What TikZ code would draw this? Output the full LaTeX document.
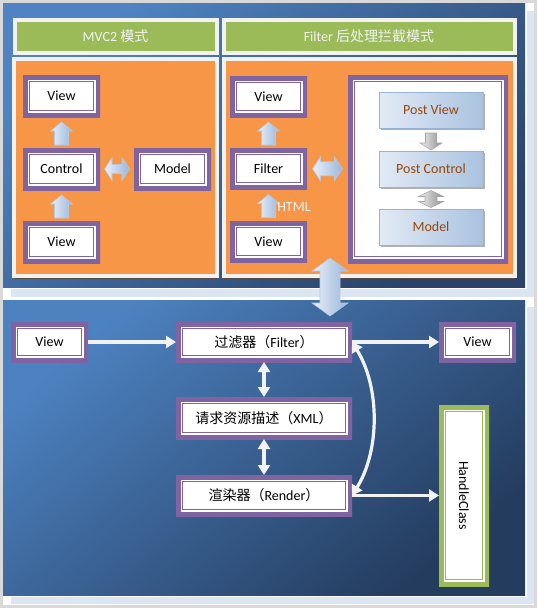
\documentclass[tikz,border=0pt]{standalone}
\usepackage{fontspec}
\usepackage{graphicx}
\setmainfont{Carlito}
\newfontfamily\cjk{Noto Sans CJK SC}
\usetikzlibrary{arrows.meta,calc,fit,shadows}
\definecolor{pp}{HTML}{8064A2}
\definecolor{grn}{HTML}{9BBB59}
\definecolor{org}{HTML}{F79646}
\definecolor{frm}{HTML}{F2F2F2}
\definecolor{bgl}{HTML}{DCE6F2}
\definecolor{bgg}{HTML}{D9D9D9}
\definecolor{tpl}{HTML}{4F83C3}
\definecolor{tpd}{HTML}{2A4469}
\definecolor{btl}{HTML}{4D82C1}
\definecolor{btd}{HTML}{243C5E}
\definecolor{brn}{HTML}{984807}
\definecolor{ab1}{HTML}{EAF0F8}
\definecolor{ab2}{HTML}{98B6DB}
\definecolor{abd}{HTML}{B3C8E3}
\definecolor{pb1}{HTML}{E2EAF5}
\definecolor{pb2}{HTML}{A9C2E0}
\definecolor{pbd}{HTML}{95B3D7}
\definecolor{shd}{HTML}{5A4A44}
\newcommand\boxfont{\fontsize{10.5}{12}\selectfont}
% single block arrow pointing up (before rotation): style, centre, half length, shaft half width, head half width, head length
\newcommand\blockarrow[6]{%
  \draw[#1, shift={(#2)}] (-#4,#3) -- (-#4,-#3+#6) -- (-#5,-#3+#6) -- (0,-#3) -- (#5,-#3+#6) -- (#4,-#3+#6) -- (#4,#3) -- cycle;}
% double block arrow, vertical before rotation
\newcommand\dblockarrow[6]{%
  \draw[#1, shift={(#2)}] (-#4,#3-#6) -- (-#4,-#3+#6) -- (-#5,-#3+#6) -- (0,-#3) -- (#5,-#3+#6) -- (#4,-#3+#6) -- (#4,#3-#6) -- (#5,#3-#6) -- (0,#3) -- (-#5,#3-#6) -- cycle;}
\begin{document}
\begin{tikzpicture}[x=0.75pt,y=-0.75pt,
  frame/.style={fill=white, inner sep=0pt, outer sep=0pt,
    path picture={
      \draw[#1, line width=6.75pt] (path picture bounding box.north west) rectangle (path picture bounding box.south east);
      \draw[#1, line width=0.8pt] ([shift={(4.6pt,-4.6pt)}]path picture bounding box.north west) rectangle ([shift={(-4.6pt,4.6pt)}]path picture bounding box.south east);
    }},
  pbox/.style={frame=pp},
  gbox/.style={frame=grn},
  txt/.style={label={[font=\boxfont, text=black, inner sep=0pt]center:#1}},
  hdr/.style={fill=grn, draw=frm, line width=3pt, inner sep=0pt, outer sep=0pt},
  htxt/.style={label={[font=\boxfont, text=frm, inner sep=0pt]center:#1}},
  opanel/.style={fill=org, draw=frm, line width=3pt, inner sep=0pt, outer sep=0pt,
    drop shadow={shadow xshift=0pt, shadow yshift=-2.6pt, fill=shd, opacity=1}},
  post/.style={left color=pb1, right color=pb2, draw=pbd, line width=0.5pt, inner sep=0pt, outer sep=0pt,
    drop shadow={shadow xshift=1.5pt, shadow yshift=-1.5pt, fill=black, opacity=0.3}},
  ptxt/.style={label={[font=\boxfont, text=brn, inner sep=0pt]center:#1}},
  barrow/.style={left color=ab1, right color=ab2, draw=abd, line width=0.4pt},
  garrow/.style={left color=white!95!black, right color=black!45, draw=black!35, line width=0.4pt},
  warrow/.style={draw=frm, line width=2.4pt},
  tip/.tip={Triangle[width=9pt,length=7.5pt]},
]
\path[use as bounding box] (0,0) rectangle (537,608);
% background
\fill[bgg] (0,0) rectangle (537,608);
\fill[white] (3,3) rectangle (534,605);
\fill[bgl] (11,11) rectangle (534,297);
\fill[white] (3,3) rectangle (527,289);
\fill[bgl] (11,307) rectangle (534,604);
\fill[white] (3,299) rectangle (527,597);
\shade[top color=tpl, bottom color=tpd, shading angle=40] (3,3) rectangle (525,287);
\shade[top color=btl, bottom color=btd, shading angle=40] (3,300) rectangle (525,595);

% top headers and panels
\node[hdr, fit={(14.5,20)(216.5,53)}, htxt={MVC2 {\cjk 模式}}] (h1) {};
\node[hdr, fit={(223.5,20)(514.5,53)}, htxt={Filter {\cjk 后处理拦截模式}}] (h2) {};
\node[opanel, fit={(14,59)(217,276)}] (op1) {};
\node[opanel, fit={(224,59)(514.5,276)}] (op2) {};

% MVC2 boxes
\node[pbox, fit={(23,75)(100,117)}, txt=View] (mv1) {};
\node[pbox, fit={(23,148)(100,190)}, txt=Control] (mc) {};
\node[pbox, fit={(134,148)(211,190)}, txt=Model] (mm) {};
\node[pbox, fit={(23,221)(100,263)}, txt=View] (mv2) {};
\coordinate (a1) at ($(mv2.north)!0.5!(mc.south)+(0,1)$);
\coordinate (a2) at ($(mc.north)!0.5!(mv1.south)+(0,1)$);
\coordinate (a3) at ($(mc.east)!0.5!(mm.west)$);
\blockarrow{barrow}{a1}{11.5}{7}{11}{9}
\blockarrow{barrow}{a2}{11.5}{7}{11}{9}
\dblockarrow{barrow, rotate=90}{a3}{12.5}{4.5}{11.5}{7.5}

% Filter boxes
\node[pbox, fit={(230,76)(307,117)}, txt=View] (fv1) {};
\node[pbox, fit={(230,148)(307,189)}, txt=Filter] (ff) {};
\node[pbox, fit={(230,221)(307,262)}, txt=View] (fv2) {};
\coordinate (b1) at ($(fv2.north)!0.5!(ff.south)+(0,1)$);
\coordinate (b2) at ($(ff.north)!0.5!(fv1.south)+(0,1)$);
\blockarrow{barrow}{b1}{11.5}{7}{11}{9}
\blockarrow{barrow}{b2}{11.5}{7}{11}{9}
\node[anchor=west, inner sep=0pt, font=\boxfont, text=frm] (html) at (277,207) {HTML};
\node[pbox, fit={(348,75)(508,263)}] (big) {};
\coordinate (b3) at ($(ff.east)!0.5!(big.west)$);
\dblockarrow{barrow, rotate=90}{b3}{15}{7}{12}{8}
\node[post, fit={(379,92)(483,128)}, ptxt={Post View}] (pv) {};
\node[post, fit={(379,151)(483,187)}, ptxt={Post Control}] (pc) {};
\node[post, fit={(379,209)(483,245)}, ptxt=Model] (pm) {};
\coordinate (c1) at ($(pv.south)!0.5!(pc.north)+(0,2)$);
\coordinate (c2) at ($(pc.south)!0.5!(pm.north)+(0,1)$);
\blockarrow{garrow, rotate=180}{c1}{8.5}{5.5}{11}{7}
\dblockarrow{garrow}{c2}{8.5}{6}{12.5}{6}

% connector between panels
\coordinate (link) at (330,287);
\dblockarrow{barrow}{link}{29}{10}{18}{13}

% bottom panel
\node[pbox, fit={(11,322)(88,362)}, txt=View] (bv1) {};
\node[pbox, fit={(176,322)(352,362)}, txt={{\cjk 过滤器（}Filter{\cjk ）}}] (bf) {};
\node[pbox, fit={(439,322)(516,362)}, txt=View] (bv2) {};
\node[pbox, fit={(176,397)(352,439)}, txt={{\cjk 请求资源描述（}XML{\cjk ）}}] (bx) {};
\node[pbox, fit={(176,475)(352,516)}, txt={{\cjk 渲染器（}Render{\cjk ）}}] (br) {};
\node[gbox, fit={(439,405)(489,586)}, txt={\rotatebox{-90}{HandleClass}}] (hc) {};

\draw[warrow, -tip] (bv1.east) -- (bf.west);
\draw[warrow, -tip] (bf.east) -- (bv2.west);
\draw[warrow, tip-tip] (bf.south) -- (bx.north);
\draw[warrow, tip-tip] (bx.south) -- (br.north);
\draw[warrow, -tip] (br.east) -- (br.east -| hc.west);
\draw[warrow, tip-tip] (bf.east) .. controls +(28,45) and +(28,-45) .. (br.east);
\end{tikzpicture}
\end{document}
